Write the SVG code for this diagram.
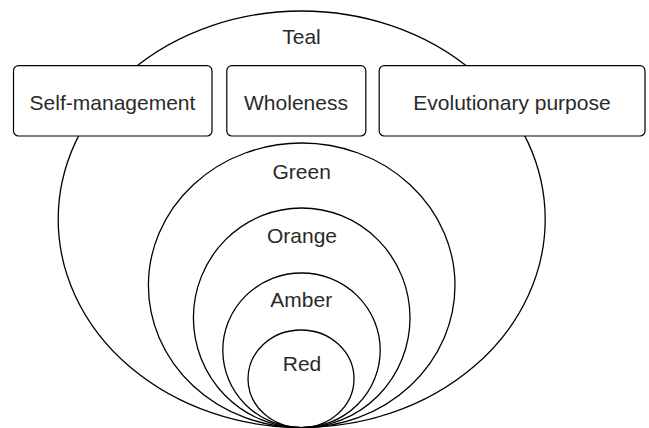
<svg xmlns="http://www.w3.org/2000/svg" width="649" height="428" viewBox="0 0 649 428">
<style>
.ring{fill:none;stroke:#000;stroke-width:1.3}
.box{fill:#fff;stroke:#000;stroke-width:1.2}
.lbl{font-family:"Liberation Sans",Arial,sans-serif;font-size:21px;fill:#2a2a2a;text-anchor:middle}
</style>
<rect width="649" height="428" fill="#fff"/>
<g id="teal"><ellipse class="ring" cx="301.7" cy="219.3" rx="243.5" ry="208.3"/><text class="lbl" x="301.5" y="44">Teal</text></g>
<g id="green"><ellipse class="ring" cx="301.7" cy="285.3" rx="153.3" ry="142.3"/><text class="lbl" x="301.7" y="179">Green</text></g>
<g id="orange"><ellipse class="ring" cx="301.7" cy="317.8" rx="108.3" ry="109.8"/><text class="lbl" x="302" y="243">Orange</text></g>
<g id="amber"><ellipse class="ring" cx="301.5" cy="350.3" rx="78.7" ry="77.3"/><text class="lbl" x="301.3" y="307">Amber</text></g>
<g id="red"><ellipse class="ring" cx="301" cy="378.8" rx="53" ry="48.8"/><text class="lbl" x="302" y="371">Red</text></g>
<g id="self-management"><rect class="box" x="13.5" y="65.7" width="198.5" height="70.3" rx="5"/><text class="lbl" x="112.5" y="110">Self-management</text></g>
<g id="wholeness"><rect class="box" x="226.8" y="65.7" width="139" height="70.3" rx="5"/><text class="lbl" x="296" y="110">Wholeness</text></g>
<g id="evolutionary-purpose"><rect class="box" x="379.2" y="65.7" width="265.8" height="70.3" rx="5"/><text class="lbl" x="512" y="110">Evolutionary purpose</text></g>
<g id="connectors"></g>
</svg>
